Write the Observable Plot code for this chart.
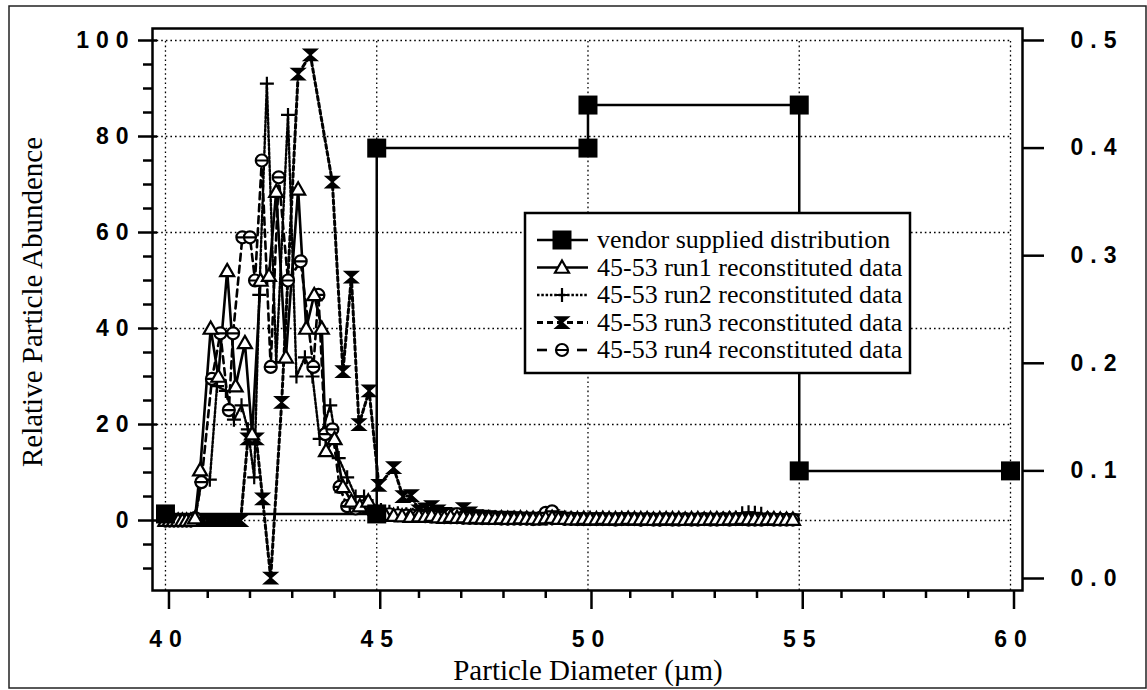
<!DOCTYPE html>
<html><head><meta charset="utf-8">
<script src="https://cdn.jsdelivr.net/npm/d3@7"></script>
<script src="https://cdn.jsdelivr.net/npm/@observablehq/plot@0.6"></script>
<style>
body{margin:0;background:#fff;}
#chart{position:relative;width:1147px;height:690px;}
.serif{font-family:"Liberation Serif","Times New Roman",serif !important;}
</style></head><body><div id="chart"></div>
<script>
// ---------- data ----------
const xTicks = [40, 45, 50, 55, 60];
const xMinor = [41,42,43,44,46,47,48,49,51,52,53,54,56,57,58,59];
const leftTicks = [0, 20, 40, 60, 80, 100];
const leftMinor = [-10,-5,5,10,15,25,30,35,45,50,55,65,70,75,85,90,95];
const rightTicks = [0.0, 0.1, 0.2, 0.3, 0.4, 0.5];

// vendor supplied distribution (right axis)
const vendX = [40, 45, 45, 50, 50, 55, 55, 60];
const vendR = [0.06, 0.06, 0.40, 0.40, 0.44, 0.44, 0.10, 0.10];

// run1 (triangles)
const x1 = [40.0,40.1,40.2,40.3,40.4,40.5,40.6,40.7,40.82,41.07,41.25,41.46,41.66,41.88,42.05,42.25,42.45,42.62,42.85,43.14,43.33,43.52,43.7,43.8,44.0,44.2,44.4,44.6,44.8,45.0,45.2,45.4,45.6,45.8];
const y1 = [0,0,0,0,0,0,0,0.5,10.5,40,30,52,28,37,18,50,51,68.5,34,69,40,47,40,14.5,17,7,4,3,4,1.5,1.2,1.0,0.9,0.8];
// run2 (plus)
const x2 = [40.0,40.1,40.2,40.3,40.4,40.5,40.6,40.7,40.85,41.05,41.22,41.43,41.62,41.8,41.95,42.1,42.22,42.4,42.62,42.9,43.1,43.3,43.48,43.65,43.9,44.1,44.3,44.5,44.7,44.9,45.1,45.3,45.5,45.7,45.85];
const y2 = [0,0,0,0,0,0,0,0.5,8,8.5,28,27,21,24,19,9,47,91,33,84.5,30,34,30,17,24,13,9,5,5,3,2.2,1.8,1.5,1.3,1.2];
// run3 (hourglass)
const x3 = [40.0,40.1,40.2,40.3,40.4,40.5,40.6,40.7,40.8,40.9,41.0,41.1,41.2,41.3,41.4,41.5,41.6,41.7,41.78,41.95,42.15,42.3,42.49,42.75,43.14,43.43,43.95,44.2,44.4,44.58,44.82,45.05,45.4,45.62,45.82];
const y3 = [0,0,0,0,0,0,0,0,0,0,0,0,0,0,0,0,0,0,0,17,17,4.5,-12,24.6,93,97,70.5,31,50.7,20,27,7.3,11,5,5.2];
// run4 (theta circles)
const x4 = [40.0,40.1,40.2,40.3,40.4,40.5,40.6,40.7,40.85,41.1,41.3,41.5,41.6,41.82,42.0,42.12,42.28,42.49,42.68,42.9,43.2,43.5,43.62,43.78,43.95,44.12,44.3,44.5,44.7,44.9,45.1,45.3,45.5,45.7,45.85];
const y4 = [0,0,0,0,0,0,0,0.5,8,29.5,39,23,39,59,59,50,75,32,71.5,50,54,32,47,18,19,7,3,2.5,3,2,1.6,1.3,1.1,1.0,1.0];

// tails near zero, 46 - 55
const tailX = [46.0,46.15,46.3,46.45,46.6,46.75,46.9,47.05,47.2,47.35,
  47.5,47.65,47.8,47.95,48.1,48.25,48.4,48.55,48.7,48.85,
  49.0,49.15,49.3,49.45,49.6,49.75,49.9,50.05,50.2,50.35,
  50.5,50.65,50.8,50.95,51.1,51.25,51.4,51.55,51.7,51.85,
  52.0,52.15,52.3,52.45,52.6,52.75,52.9,53.05,53.2,53.35,
  53.5,53.65,53.8,53.95,54.1,54.25,54.4,54.55,54.7,54.85];
const tail1 = [0.9,0.8,1.0,0.7,0.6,0.8,0.6,0.7,0.5,0.6,
  0.5,0.5,0.4,0.5,0.4,0.4,0.5,0.4,0.4,0.3,
  0.5,0.6,0.4,0.4,0.3,0.3,0.4,0.3,0.3,0.4,
  0.3,0.3,0.3,0.4,0.3,0.3,0.3,0.2,0.3,0.3,
  0.3,0.3,0.2,0.3,0.3,0.2,0.3,0.3,0.2,0.3,
  0.3,0.4,0.3,0.3,0.2,0.3,0.3,0.2,0.2,0.2];
const tail2 = [1.2,1.0,0.9,0.8,0.8,0.7,0.7,0.6,0.6,0.6,
  0.5,0.5,0.5,0.5,0.4,0.5,0.4,0.4,0.4,0.4,
  0.4,0.4,0.5,0.3,0.3,0.3,0.4,0.3,0.3,0.3,
  0.3,0.3,0.3,0.3,0.3,0.2,0.3,0.3,0.2,0.3,
  0.3,0.3,0.3,0.3,0.3,0.3,0.3,0.4,0.4,0.5,
  0.6,1.5,1.7,1.6,1.4,0.5,0.4,0.3,0.3,0.3];
const tail3 = [2.0,2.4,2.9,2.0,1.5,1.2,1.4,2.5,1.6,1.0,
  0.9,0.8,0.7,0.6,0.7,0.6,0.5,0.5,0.4,0.5,
  0.6,1.0,0.7,0.5,0.4,0.4,0.3,0.3,0.4,0.3,
  0.3,0.3,0.4,0.3,0.3,0.3,0.3,0.2,0.3,0.3,
  0.3,0.2,0.3,0.2,0.3,0.3,0.3,0.2,0.3,0.3,
  0.2,0.3,0.3,0.3,0.2,0.3,0.2,0.2,0.2,0.2];
const tail4 = [1.0,0.9,0.9,0.8,0.7,1.2,1.3,0.7,0.6,0.6,
  0.5,0.5,0.5,0.4,0.4,0.4,0.4,0.4,0.3,0.4,
  1.6,1.9,0.6,0.4,0.4,0.3,0.3,0.3,0.3,0.3,
  0.3,0.2,0.3,0.3,0.3,0.2,0.3,0.2,0.2,0.3,
  0.2,0.2,0.3,0.2,0.2,0.3,0.2,0.2,0.3,0.2,
  0.3,0.3,0.2,0.2,0.2,0.3,0.2,0.2,0.2,0.2];

const legendLabels = ["vendor supplied distribution","45-53 run1 reconstituted data","45-53 run2 reconstituted data","45-53 run3 reconstituted data","45-53 run4 reconstituted data"];

// ---------- helpers ----------
// right axis (0..0.5) mapped onto left axis units
const R0 = -12.08, RK = 224.17;
const toLeft = r => R0 + r * RK;
const build = (xs, ys) => xs.map((x, i) => ({x, y: ys[i]}));
const run1 = build([...x1, ...tailX], [...y1, ...tail1]);
const run2 = build([...x2, ...tailX], [...y2, ...tail2]);
const run3 = build([...x3, ...tailX], [...y3, ...tail3]);
const run4 = build([...x4, ...tailX], [...y4, ...tail4]);
const vendor = vendX.map((x, i) => ({x, y: toLeft(vendR[i])}));

const hourglass = {draw(ctx, size){ const r = Math.sqrt(size/Math.PI); const w = r*1.15, h = r*0.85;
  ctx.moveTo(-w,-h); ctx.lineTo(w,-h); ctx.lineTo(w*0.15,0); ctx.lineTo(w,h); ctx.lineTo(-w,h); ctx.lineTo(-w*0.15,0); ctx.closePath(); }};
const theta = {draw(ctx, size){ const r = Math.sqrt(size/Math.PI);
  ctx.moveTo(r,0); ctx.arc(0,0,r,0,2*Math.PI); ctx.moveTo(-r,0); ctx.lineTo(r,0); }};
const plus = {draw(ctx, size){ const r = Math.sqrt(size/Math.PI);
  ctx.moveTo(-r,0); ctx.lineTo(r,0); ctx.moveTo(0,-r); ctx.lineTo(0,r); }};
const tri = {draw(ctx, size){ const r = Math.sqrt(size/Math.PI);
  ctx.moveTo(0,-r); ctx.lineTo(r,r*0.75); ctx.lineTo(-r,r*0.75); ctx.closePath(); }};
const sq = {draw(ctx, size){ const r = Math.sqrt(size/Math.PI); ctx.rect(-r,-r,2*r,2*r); }};

const styles = [
  {sym: sq, r: 9.5, fill: "black", stroke: "none", sw: 0, dash: null, lw: 2.5},
  {sym: tri, r: 7, fill: "white", stroke: "black", sw: 2.2, dash: null, lw: 2.6},
  {sym: plus, r: 7, fill: "none", stroke: "black", sw: 2.2, dash: "2.5,1.8", lw: 2.4},
  {sym: hourglass, r: 7.5, fill: "black", stroke: "none", sw: 0, dash: "4,3", lw: 3},
  {sym: theta, r: 6, fill: "white", stroke: "black", sw: 2.2, dash: "7,5", lw: 2.6}
];
const series = [vendor, run1, run2, run3, run4];

const X0 = 39.693, X1 = 60.284, Y0 = -14.58, Y1 = 102.5;
const FS = 23, LS = 7;
const tickFont = {fontSize: FS, fontWeight: "bold", fontFamily: "Liberation Sans, Arial, sans-serif"};

const lineMarks = [1,2,3,4,0].map(i => Plot.line(series[i], {x: "x", y: "y", stroke: "black", strokeWidth: styles[i].lw, strokeDasharray: styles[i].dash}));
const dotMarks = [3,2,4,1,0].map(i => Plot.dot(series[i], {x: "x", y: "y", symbol: styles[i].sym, r: styles[i].r, fill: styles[i].fill, stroke: styles[i].stroke, strokeWidth: styles[i].sw}));

const plot = Plot.plot({
  width: 1147, height: 690,
  marginLeft: 152, marginRight: 125, marginTop: 28, marginBottom: 100,
  x: {domain: [X0, X1]},
  y: {domain: [Y0, Y1]},
  style: {background: "transparent", color: "black", overflow: "visible"},
  marks: [
    Plot.ruleY(leftTicks, {y: d => d, x1: X0, x2: 60, stroke: "black", strokeWidth: 1.3, strokeDasharray: "1.6,3"}),
    Plot.ruleX(xTicks, {x: d => d, y1: Y0, y2: 100, stroke: "black", strokeWidth: 1.3, strokeDasharray: "1.6,3"}),
    Plot.axisY(leftMinor, {anchor: "left", tickSize: 9, tickFormat: () => "", strokeWidth: 2.5, label: null}),
    Plot.axisY(leftTicks, {anchor: "left", tickSize: 19, tickPadding: 3, dx: 5, strokeWidth: 2.5, label: null, ...tickFont}),
    Plot.axisY(rightTicks.map(toLeft), {anchor: "right", tickSize: 21, tickPadding: 27, strokeWidth: 2.5, label: null,
      tickFormat: d => ((d - R0) / RK).toFixed(1), ...tickFont}),
    Plot.axisX(xMinor, {anchor: "bottom", tickSize: 8, tickFormat: () => "", strokeWidth: 2.5, label: null}),
    Plot.axisX(xTicks, {anchor: "bottom", tickSize: 19, tickPadding: 21, dx: LS/2, strokeWidth: 2.5, label: null, ...tickFont}),
    ...lineMarks,
    ...dotMarks,
    Plot.frame({stroke: "black", strokeWidth: 2.5})
  ]
});

const svg = d3.select(plot);
svg.selectAll('g[aria-label$="tick label"] text').style("letter-spacing", LS + "px");

// outer border
svg.append("rect").attr("x", 9).attr("y", 6).attr("width", 1137).attr("height", 682)
  .attr("fill", "none").attr("stroke", "#222").attr("stroke-width", 1.5);

// axis titles
svg.append("text").attr("class", "serif").attr("x", 588).attr("y", 680).style("text-anchor", "middle")
  .style("font-size", "29px").text("Particle Diameter (µm)");
svg.append("text").attr("class", "serif").attr("transform", "translate(42,302) rotate(-90)").style("text-anchor", "middle")
  .style("font-size", "29px").text("Relative Particle Abundence");

// legend
const lg = svg.append("g");
lg.append("rect").attr("x", 525).attr("y", 213).attr("width", 385).attr("height", 160)
  .attr("fill", "white").attr("stroke", "black").attr("stroke-width", 2.5);
legendLabels.forEach((lab, i) => {
  const cy = 240 + i * 27.5, s = styles[i];
  if (i === 4) {
    [[537, 547], [577, 587]].forEach(([a, b]) => lg.append("line").attr("x1", a).attr("x2", b).attr("y1", cy).attr("y2", cy)
      .attr("stroke", "black").attr("stroke-width", s.lw));
  } else {
    lg.append("line").attr("x1", 537).attr("x2", 588).attr("y1", cy).attr("y2", cy)
      .attr("stroke", "black").attr("stroke-width", s.lw).attr("stroke-dasharray", i === 3 ? "6,4" : s.dash);
  }
  lg.append("path").attr("transform", `translate(562,${cy})`)
    .attr("d", d3.symbol(s.sym, s.r * s.r * Math.PI)())
    .attr("fill", s.fill).attr("stroke", s.stroke).attr("stroke-width", s.sw);
  lg.append("text").attr("class", "serif").attr("x", 597).attr("y", cy + 8).style("text-anchor", "start")
    .style("font-size", "26px").text(lab);
});

document.getElementById("chart").appendChild(plot);
</script>
</body></html>
